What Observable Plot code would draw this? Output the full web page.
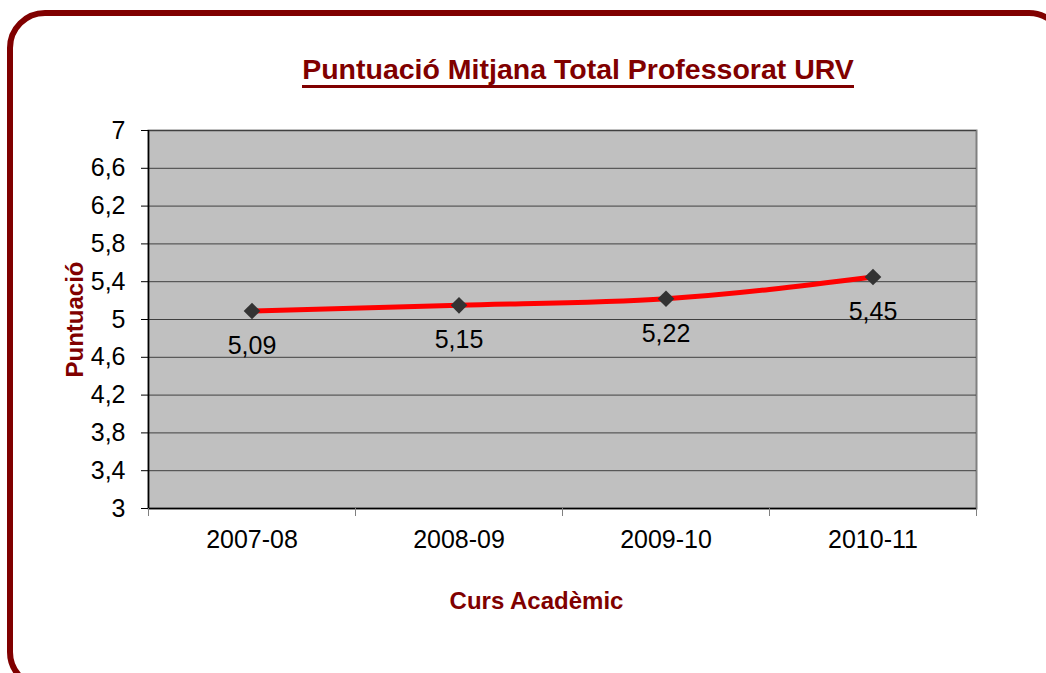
<!DOCTYPE html>
<html><head><meta charset="utf-8">
<script src="https://cdn.jsdelivr.net/npm/d3@7"></script>
<script src="https://cdn.jsdelivr.net/npm/@observablehq/plot@0.6"></script>
<style>
html,body{margin:0;padding:0;background:#fff;}
#wrap{position:relative;width:1046px;height:673px;overflow:hidden;font-family:"Liberation Sans",Arial,sans-serif;}
#frame{position:absolute;left:7px;top:10px;width:1060px;height:680px;border:6px solid #800000;border-radius:38px;box-sizing:border-box;}
#title{position:absolute;left:0;width:1156px;top:54px;text-align:center;}
#title span{font-weight:bold;font-size:28.5px;color:#800000;border-bottom:3px solid #800000;padding-bottom:0px;line-height:31px;display:inline-block;}
#chart{position:absolute;left:0;top:0;}
</style></head>
<body><div id="wrap"><div id="frame"></div><div id="title"><span>Puntuació Mitjana Total Professorat URV</span></div><div id="chart"></div></div>
<script>
const categories = ["2007-08", "2008-09", "2009-10", "2010-11"];
const values = [5.09, 5.15, 5.22, 5.45];
const yTicks = [3, 3.4, 3.8, 4.2, 4.6, 5, 5.4, 5.8, 6.2, 6.6, 7];
const data = categories.map((c, i) => ({i, c, v: values[i]}));
const fmt = d => String(d).replace(".", ",");
const chart = Plot.plot({
  width: 1046, height: 673,
  marginLeft: 148, marginRight: 70, marginTop: 130, marginBottom: 165,
  style: {fontFamily: "'Liberation Sans', Arial, sans-serif", fontSize: "25px", background: "transparent", overflow: "visible"},
  x: {type: "linear", domain: [-0.5, 3.5]},
  y: {domain: [3, 7]},
  marks: [
    Plot.frame({fill: "#c0c0c0", stroke: "#808080", strokeWidth: 2}),
    Plot.gridY(yTicks, {stroke: "#404040", strokeOpacity: 1, strokeWidth: 1}),
    Plot.ruleX([-0.5], {stroke: "#000", strokeWidth: 1.5}),
    Plot.ruleY([3], {stroke: "#000", strokeWidth: 1.5}),
    Plot.axisY({ticks: yTicks, tickFormat: fmt, tickSize: 7, tickPadding: 16, fontSize: 25, color: "#000", label: null}),
    Plot.axisX({ticks: [-0.5, 0.5, 1.5, 2.5, 3.5], tickFormat: () => "", tickSize: 8, label: null, stroke: "#808080"}),
    Plot.axisX({ticks: [0, 1, 2, 3], tickFormat: i => categories[i], tickSize: 0, tickPadding: 22, fontSize: 25, color: "#000", label: null}),
    Plot.line(data, {x: "i", y: "v", stroke: "#ff0000", strokeWidth: 5, curve: "monotone-x"}),
    Plot.dot(data, {x: "i", y: "v", symbol: "diamond2", r: 7.5, fill: "#333", stroke: "none"}),
    Plot.text(data, {x: "i", y: "v", text: d => fmt(d.v), dy: 35, fontSize: 25, fill: "#000"}),
    Plot.text(["Puntuació"], {frameAnchor: "left", textAnchor: "middle", dx: -73, rotate: -90, fontSize: 24, fontWeight: "bold", fill: "#800000"}),
    Plot.text(["Curs Acadèmic"], {frameAnchor: "bottom", lineAnchor: "middle", dx: -26, dy: 93, fontSize: 24, fontWeight: "bold", fill: "#800000"})
  ]
});
document.getElementById("chart").appendChild(chart);
</script></body></html>
